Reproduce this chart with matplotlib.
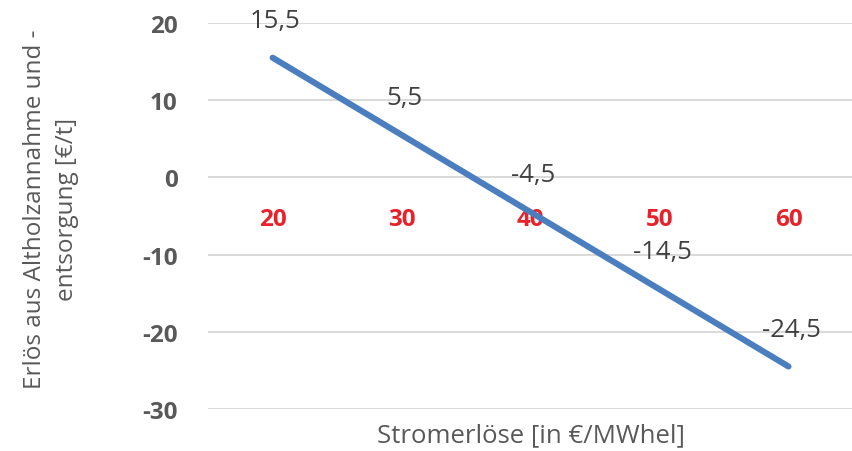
import matplotlib
matplotlib.use("Agg")
import matplotlib.pyplot as plt

# Stromerlöse in €/MWhel and resulting Erlös in €/t
strompreis = [20, 30, 40, 50, 60]
erloes = [15.5, 5.5, -4.5, -14.5, -24.5]
y_ticks = [-30, -20, -10, 0, 10, 20]

plt.rcParams['font.family'] = ['Open Sans', 'DejaVu Sans']
plt.rcParams['axes.unicode_minus'] = False

grey = '#595959'
red = '#e8222b'
blue = '#4a7ebf'

fig = plt.figure(figsize=(8.53, 4.52), dpi=100)
ax = fig.add_axes([0.244, 0.093, 0.756, 0.854])

ax.plot(strompreis, erloes, color=blue, lw=4.4, solid_capstyle='round', zorder=3)

# data labels above each point
for x, y in zip(strompreis, erloes):
    ax.annotate(f'{y:.1f}'.replace('.', ','), (x, y), xytext=(2, 27),
                textcoords='offset points', ha='center', va='center',
                fontsize=18.5, color='#404040')

ax.set_xlim(15, 65)
ax.set_ylim(-30, 20)
ax.set_yticks(y_ticks)
ax.set_xticks(strompreis)
ax.grid(axis='y', color='#d9d9d9', lw=1.4)
ax.set_axisbelow(True)

# category axis crosses at zero
ax.spines['bottom'].set_position(('data', 0))
for s in ax.spines.values():
    s.set_visible(False)
ax.tick_params(axis='x', length=0, pad=21, labelsize=17.5, labelcolor=red)
ax.tick_params(axis='y', length=0, pad=22, labelsize=17.5, labelcolor=grey)
for lab in ax.get_xticklabels() + ax.get_yticklabels():
    lab.set_fontweight('bold')

ax.set_xlabel('Stromerlöse [in €/MWhel]', fontsize=18.5, color=grey)
ax.xaxis.set_label_coords(0.5, -0.035)
ax.set_ylabel('Erlös aus Altholzannahme und -\nentsorgung [€/t]', fontsize=17.5,
              color=grey, linespacing=1.45)
ax.yaxis.set_label_coords(-0.2, 0.52)

fig.savefig('out.png', dpi=100)
